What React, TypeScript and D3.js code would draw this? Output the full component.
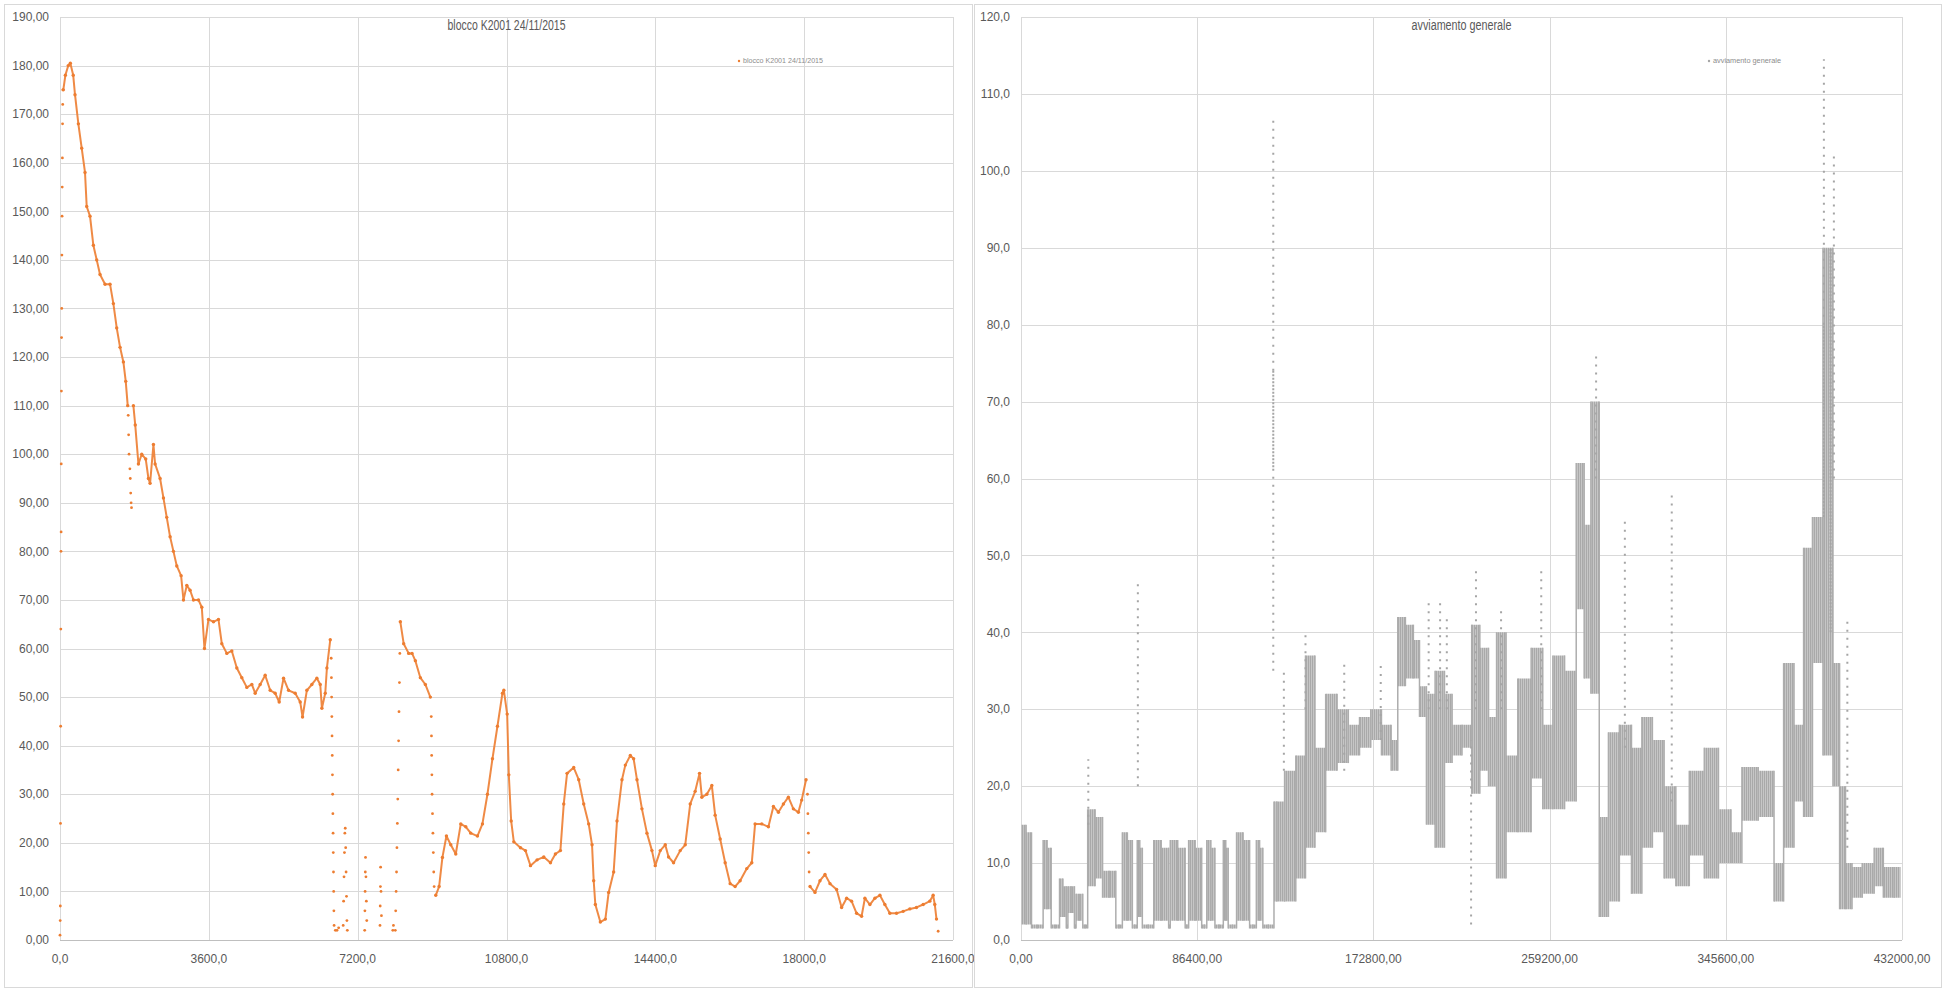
import React from "react";
import * as d3 from "d3";

const WIDTH = 1946;
const HEIGHT = 997;

// left chart: blocco K2001 24/11/2015 (seconds, value)
const leftTitle = "blocco K2001 24/11/2015";
const leftXTicks = [0, 3600, 7200, 10800, 14400, 18000, 21600];
const leftYTicks = d3.range(0, 191, 10);

// dense trace, null = gap where the points spread apart
const bloccoTrace: ([number, number] | null)[] = [
  [80, 175], [130, 178], [200, 180], [250, 180.5], [320, 178], [363, 174], [444, 168], [525, 163],
  [605, 158], [646, 151], [726, 149], [807, 143], [888, 140], [968, 137], [1090, 135], [1210, 135],
  [1291, 131], [1372, 126], [1453, 122], [1533, 119], [1590, 115], [1638, 110],
  null,
  [1775, 110], [1820, 106], [1897, 98], [1977, 100], [2074, 99], [2139, 95], [2179, 94], [2260, 102],
  [2300, 98], [2421, 95], [2502, 91], [2582, 87], [2663, 83], [2744, 80], [2825, 77], [2929, 75],
  [2986, 70], [3067, 73], [3147, 72], [3228, 70], [3349, 70], [3430, 68.5], [3494, 60], [3591, 66],
  [3712, 65.5], [3833, 66], [3914, 61], [4035, 59], [4156, 59.5], [4277, 56], [4398, 54], [4519, 52],
  [4640, 52.6], [4721, 50.8], [4842, 52.6], [4963, 54.5], [5084, 51.4], [5205, 50.8], [5302, 49],
  [5407, 53.9], [5528, 51.4], [5689, 50.8], [5810, 49], [5867, 45.9], [5971, 51.4], [6092, 52.6],
  [6213, 53.9], [6295, 52.6], [6335, 47.7], [6416, 50.8], [6456, 56], [6537, 61.8],
  null,
  [8232, 65.5], [8313, 61], [8434, 59], [8515, 59], [8595, 57.5], [8716, 54], [8837, 52.6], [8958, 50],
  null,
  [9089, 9.2], [9170, 11], [9250, 17], [9347, 21.4], [9452, 19.6], [9573, 17.7], [9694, 23.9],
  [9815, 23.3], [9936, 22], [10097, 21.4], [10218, 23.9], [10339, 30], [10460, 37.3], [10581, 44],
  [10702, 50.8], [10736, 51.4], [10816, 46.5], [10856, 34], [10913, 24.5], [10977, 20.2], [11138, 19],
  [11259, 18.4], [11380, 15.3], [11541, 16.5], [11702, 17.1], [11863, 15.9], [11983, 17.7],
  [12104, 18.4], [12185, 28], [12265, 34.3], [12426, 35.5], [12547, 33], [12668, 28], [12788, 23.9],
  [12869, 19.6], [12909, 12.2], [12949, 7.3], [13070, 3.7], [13191, 4.3], [13271, 9.8], [13392, 14],
  [13473, 24.5], [13593, 33], [13674, 36], [13795, 38], [13875, 37.3], [13956, 33], [14076, 27],
  [14197, 22], [14318, 18.4], [14398, 15.3], [14519, 18.4], [14640, 19.6], [14720, 17.1],
  [14841, 15.9], [15002, 18.4], [15123, 19.6], [15244, 28], [15364, 30.6], [15469, 34.3],
  [15525, 29.4], [15646, 30], [15767, 31.8], [15847, 25.7], [15968, 20.8], [16089, 15.9],
  [16210, 11.6], [16330, 11], [16451, 12.2], [16612, 14.7], [16733, 15.9], [16813, 23.9],
  [16974, 23.9], [17135, 23.3], [17256, 27.5], [17377, 26.3], [17498, 28], [17618, 29.4],
  [17739, 27], [17860, 26.3], [17940, 28.8], [18045, 33],
  null,
  [18142, 11], [18262, 9.8], [18383, 12.2], [18504, 13.5], [18625, 11.6], [18785, 10.4],
  [18906, 6.7], [19027, 8.6], [19147, 8], [19268, 5.5], [19389, 4.9], [19469, 8.6], [19590, 7.3],
  [19711, 8.6], [19832, 9.2], [19952, 7.3], [20073, 5.5], [20234, 5.5], [20395, 5.9], [20556, 6.4],
  [20717, 6.7], [20878, 7.3], [21039, 8], [21120, 9.2], [21160, 7.3], [21201, 4.3],
];

// isolated points (start-up ramp and the quick drops)
const bloccoSparse: [number, number][] = [
  [0, 1], [5, 4], [8, 7], [12, 24], [16, 44], [20, 64], [24, 80], [27, 84], [30, 98], [34, 113],
  [38, 124], [42, 130], [46, 141], [50, 149], [54, 155], [58, 161], [62, 168], [66, 172], [70, 175],
  [1650, 108], [1660, 104], [1670, 100], [1690, 97], [1700, 95], [1710, 92], [1720, 90], [1730, 89],
  [6560, 58], [6565, 54], [6570, 50], [6575, 46], [6580, 42], [6585, 38], [6590, 34], [6595, 30],
  [6600, 26], [6605, 22], [6610, 18], [6615, 14], [6620, 10], [6625, 6], [6630, 3], [6660, 2],
  [6700, 2], [6740, 2.5], [6850, 3], [6860, 8], [6870, 13], [6880, 18], [6890, 22], [6900, 23],
  [6910, 19], [6920, 14], [6930, 9], [6940, 4], [6950, 2], [7370, 2], [7375, 6], [7380, 10],
  [7385, 14], [7390, 17], [7400, 13], [7410, 8], [7420, 4], [7740, 3], [7745, 7], [7750, 11],
  [7755, 15], [7765, 10], [7775, 5], [8050, 2], [8065, 3], [8110, 2], [8120, 6], [8130, 10],
  [8140, 14], [8150, 19], [8160, 24], [8170, 29], [8180, 35], [8190, 41], [8200, 47], [8210, 53],
  [8220, 59], [8980, 46], [8985, 42], [8990, 38], [8995, 34], [9000, 30], [9010, 26], [9020, 22],
  [9030, 18], [9040, 14], [9050, 11], [18080, 30], [18090, 26], [18100, 22], [18110, 18],
  [18120, 14], [21241, 1.8],
];

// right chart: avviamento generale (seconds, low, high of the point cloud)
const rightTitle = "avviamento generale";
const rightXTicks = [0, 86400, 172800, 259200, 345600, 432000];
const rightYTicks = d3.range(0, 121, 10);

const avvBands: [number, number, number][] = [
  // bursts over a near-zero floor
  [0, 2, 15], [5000, 2, 14], [5300, 1.5, 2], [10700, 1.5, 2], [11000, 4, 13], [14600, 4, 12],
  [15000, 1.5, 2], [18700, 1.5, 2], [19100, 3, 8], [22000, 3, 7], [22400, 1.5, 2], [22800, 1.5, 2],
  [23200, 3.5, 7], [26000, 3.5, 7], [26400, 1.5, 2], [26800, 1.5, 2], [27200, 2.5, 6], [30100, 2.5, 6],
  [30500, 1.5, 2], [32500, 1.5, 2], [32900, 7, 17], [39800, 8, 16], [40200, 5.5, 9], [46300, 5.5, 9],
  [46700, 1.5, 2], [49500, 1.5, 2], [49900, 2.5, 14], [54400, 2.5, 13], [54800, 1.5, 2],
  [56800, 1.5, 2], [57200, 3, 13], [59300, 3, 12], [59700, 1.5, 2], [64900, 1.5, 2], [65300, 2.5, 13],
  [72200, 2.5, 12], [72600, 1.5, 2], [73000, 1.5, 2], [73400, 2.5, 13], [80300, 2.5, 12],
  [80700, 1.5, 2], [82000, 1.5, 2], [82400, 2.5, 13], [88400, 2.5, 12], [88800, 1.5, 2],
  [90900, 1.5, 2], [91300, 2.5, 13], [94900, 2.5, 12], [95300, 1.5, 2], [99000, 1.5, 2],
  [99400, 2.5, 13], [101400, 2.5, 12], [101800, 1.5, 2], [105500, 1.5, 2], [105900, 2.5, 14],
  [111900, 2.5, 13], [112300, 1.5, 2], [115200, 1.5, 2], [115600, 2.5, 13], [118400, 2.5, 12],
  [118800, 1.5, 2], [123600, 1.5, 2],
  // continuous running
  [124500, 5, 18], [126500, 5, 18], [132000, 5, 22], [137500, 8, 24], [141500, 12, 37],
  [146800, 14, 25], [152000, 22, 32], [158000, 23, 30], [163000, 24, 28], [169000, 25, 29],
  [174000, 26, 30], [179500, 24, 28], [183500, 22, 26], [186000, 33, 42], [191000, 34, 41],
  [193800, 34, 39], [197000, 29, 33], [200600, 15, 32], [205500, 12, 35], [209800, 23, 32],
  [213000, 24, 28], [219500, 25, 28], [222500, 19, 41], [227500, 22, 38], [231000, 20, 29],
  [235400, 8, 40], [240300, 14, 24], [246900, 14, 34], [253400, 21, 38], [258300, 17, 28],
  [263300, 17, 37], [269800, 18, 35], [274700, 43, 62], [277600, 34, 54], [281300, 32, 70],
  [285800, 3, 16], [290300, 5, 27], [296500, 11, 28], [302200, 6, 25], [306700, 12, 29],
  [312500, 14, 26], [318200, 8, 20], [324000, 7, 15], [331400, 11, 22], [338700, 8, 25],
  [345300, 10, 17], [351000, 10, 14], [356000, 15.5, 22.5], [367000, 16, 22], [371500, 5, 10],
  [376400, 12, 36], [381700, 18, 28], [385800, 16, 51], [390400, 36, 55], [396100, 24, 90],
  [400200, 20, 36], [402600, 4, 20], [406000, 4, 10], [409000, 5.5, 9.5], [416000, 6, 10],
  [420700, 7, 12], [425000, 5.5, 9.5], [431300, 5.5, 9.5],
];

// thin columns of scattered points above the cloud
const avvSpikesSparse: [number, number, number][] = [
  [33000, 15, 23.5], [57300, 20, 47], [123700, 74, 107], [123700, 35, 61], [128900, 22, 35],
  [139500, 30, 40], [158500, 22, 36], [176400, 26, 36.4], [199900, 30, 44], [205500, 30, 44.5],
  [208800, 30, 42], [220700, 2, 26], [223100, 30, 48], [235400, 30, 43], [255100, 30, 48],
  [282000, 60, 76], [296100, 25, 55], [319100, 18, 58], [393700, 80, 114.5], [398600, 60, 102],
  [405200, 12, 42],
];
const avvSpikesDense: [number, number, number][] = [
  [123700, 61, 74], [393700, 55, 80], [397000, 40, 90],
];

const GRID = "#d9d9d9";
const TEXT = "#595959";
const FONT = "'Liberation Sans', Arial, sans-serif";

const comma = (v: number, digits: number) => v.toFixed(digits).replace(".", ",");

const Frame = ({ x, width }: { x: number; width: number }) => (
  <rect x={x + 0.5} y={4.5} width={width} height={983} fill="#fff" stroke={GRID} />
);

const Grid = ({ xScale, yScale, xTicks, yTicks, xDigits, yDigits }: any) => {
  const [x0, x1] = xScale.range();
  const [y0, y1] = yScale.range();
  return (
    <g>
      {yTicks.map((t: number) => (
        <line key={"h" + t} x1={x0} x2={x1} y1={Math.round(yScale(t)) + 0.5} y2={Math.round(yScale(t)) + 0.5}
          stroke={t === 0 ? "#bfbfbf" : GRID} strokeWidth={1.2} />
      ))}
      {xTicks.map((t: number) => (
        <line key={"v" + t} x1={Math.round(xScale(t)) + 0.5} x2={Math.round(xScale(t)) + 0.5} y1={y1} y2={y0}
          stroke={GRID} strokeWidth={1} />
      ))}
      {yTicks.map((t: number) => (
        <text key={"yl" + t} x={x0 - 11} y={yScale(t)} dy="0.35em" textAnchor="end" fontSize={12}
          fill={TEXT} fontFamily={FONT}>{comma(t, yDigits)}</text>
      ))}
      {xTicks.map((t: number) => (
        <text key={"xl" + t} x={xScale(t)} y={y0 + 19} dy="0.35em" textAnchor="middle" fontSize={12}
          fill={TEXT} fontFamily={FONT}>{comma(t, xDigits)}</text>
      ))}
    </g>
  );
};

export default function App() {
  const lx = d3.scaleLinear().domain([0, 21600]).range([60, 953]);
  const ly = d3.scaleLinear().domain([0, 190]).range([940, 17]);
  const rx = d3.scaleLinear().domain([0, 432000]).range([1021, 1902]);
  const ry = d3.scaleLinear().domain([0, 120]).range([940, 17]);

  const orange = "#ED7D31";
  const gray = "#A5A5A5";

  const traceLine = d3.line<[number, number] | null>()
    .defined((d) => d !== null)
    .x((d) => lx(d![0]))
    .y((d) => ly(d![1]));

  // step between readings so the cloud keeps its column look
  const bandArea = d3.area<[number, number, number]>()
    .x((d) => rx(d[0]))
    .y0((d) => ry(d[1]))
    .y1((d) => ry(d[2]))
    .curve(d3.curveStep);

  // vertical joins where one reading steps to the next (the cloud is continuous there)
  const joins = d3.pairs(avvBands).map(([a, b]) => ({
    t: (a[0] + b[0]) / 2,
    lo: Math.min(a[1], b[1]),
    hi: Math.max(a[2], b[2]),
  }));

  const tracePoints = bloccoTrace.filter((d): d is [number, number] => d !== null);

  return (
    <svg width={WIDTH} height={HEIGHT} style={{ position: "absolute", left: 0, top: 0 }}>
      <defs>
        <pattern id="grain" width={2} height={3} patternUnits="userSpaceOnUse">
          <rect width={2} height={3} fill="#c6c6c6" />
          <rect width={1} height={3} fill="#a9a9a9" />
        </pattern>
      </defs>
      <rect width={WIDTH} height={HEIGHT} fill="#fff" />

      {/* left panel */}
      <Frame x={4} width={968} />
      <Grid xScale={lx} yScale={ly} xTicks={leftXTicks} yTicks={leftYTicks} xDigits={1} yDigits={2} />
      <text x={(lx(0) + lx(21600)) / 2} y={30} textAnchor="middle" fontSize={14} fill={TEXT} fontFamily={FONT}
        textLength={118} lengthAdjust="spacingAndGlyphs">{leftTitle}</text>
      <circle cx={739} cy={61} r={1.2} fill={orange} />
      <text x={743} y={63} fontSize={7} fill="#8c8c8c" fontFamily={FONT} textLength={80}
        lengthAdjust="spacingAndGlyphs">{leftTitle}</text>
      <path d={traceLine(bloccoTrace) ?? ""} fill="none" stroke={orange} strokeWidth={2}
        strokeLinejoin="round" strokeLinecap="round" strokeOpacity={0.9} />
      {tracePoints.map((d, i) => (
        <circle key={"t" + i} cx={lx(d[0])} cy={ly(d[1])} r={1.7} fill={orange} />
      ))}
      {bloccoSparse.map((d, i) => (
        <circle key={"s" + i} cx={lx(d[0])} cy={ly(d[1])} r={1.4} fill={orange} />
      ))}

      {/* right panel */}
      <Frame x={974} width={967} />
      <Grid xScale={rx} yScale={ry} xTicks={rightXTicks} yTicks={rightYTicks} xDigits={2} yDigits={1} />
      <text x={(rx(0) + rx(432000)) / 2} y={30} textAnchor="middle" fontSize={14} fill={TEXT} fontFamily={FONT}
        textLength={100} lengthAdjust="spacingAndGlyphs">{rightTitle}</text>
      <circle cx={1709} cy={61} r={1.2} fill={gray} />
      <text x={1713} y={63} fontSize={7} fill="#8c8c8c" fontFamily={FONT} textLength={68}
        lengthAdjust="spacingAndGlyphs">{rightTitle}</text>
      <path d={bandArea(avvBands) ?? ""} fill="url(#grain)" stroke="none" />
      {joins.map((j, i) => (
        <line key={"j" + i} x1={rx(j.t)} x2={rx(j.t)} y1={ry(j.lo)} y2={ry(j.hi)}
          stroke="#adadad" strokeWidth={1.5} />
      ))}
      {avvSpikesSparse.map((d, i) => (
        <line key={"sp" + i} x1={rx(d[0])} x2={rx(d[0])} y1={ry(d[1])} y2={ry(d[2])}
          stroke={gray} strokeWidth={2} strokeDasharray="2 6" />
      ))}
      {avvSpikesDense.map((d, i) => (
        <line key={"sd" + i} x1={rx(d[0])} x2={rx(d[0])} y1={ry(d[1])} y2={ry(d[2])}
          stroke={gray} strokeWidth={2} strokeDasharray="2 1.5" />
      ))}
    </svg>
  );
}
